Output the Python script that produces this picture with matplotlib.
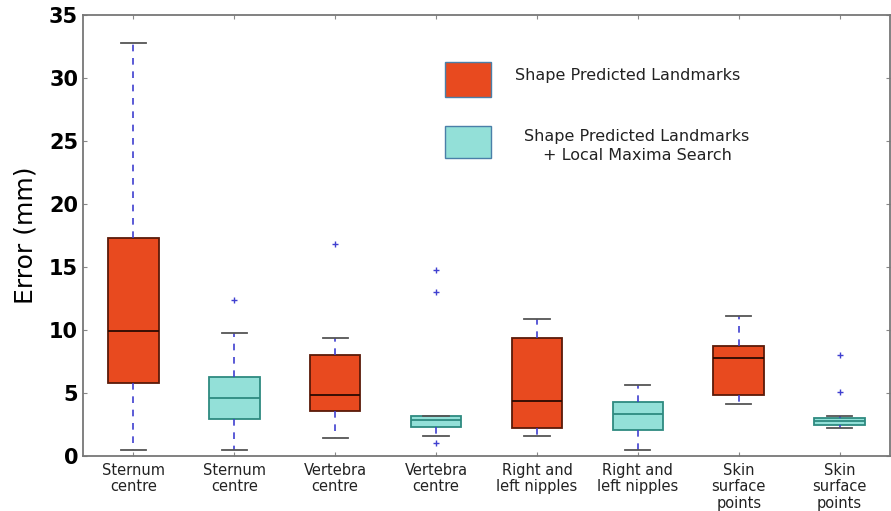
import matplotlib
matplotlib.use("Agg")
import matplotlib.pyplot as plt
from matplotlib.patches import Rectangle

categories = ["Sternum\ncentre", "Sternum\ncentre", "Vertebra\ncentre", "Vertebra\ncentre",
              "Right and\nleft nipples", "Right and\nleft nipples", "Skin\nsurface\npoints",
              "Skin\nsurface\npoints"]
methods = ["shape", "search", "shape", "search", "shape", "search", "shape", "search"]
whisker_low = [0.45, 0.45, 1.45, 1.6, 1.6, 0.45, 4.1, 2.2]
q1 = [5.8, 2.9, 3.6, 2.3, 2.2, 2.05, 4.85, 2.45]
median = [9.9, 4.6, 4.85, 2.85, 4.35, 3.35, 7.8, 2.75]
q3 = [17.3, 6.3, 8.0, 3.2, 9.35, 4.27, 8.7, 3.05]
whisker_high = [32.8, 9.8, 9.4, 3.2, 10.9, 5.6, 11.1, 3.2]
outliers = [[], [12.4], [16.8], [14.8, 13.0, 1.0], [], [], [], [8.0, 5.1]]

legend_labels = ["Shape Predicted Landmarks",
                 "Shape Predicted Landmarks\n+ Local Maxima Search"]

face = {"shape": "#E84A1F", "search": "#93E0D8"}
edge = {"shape": "#5a1a08", "search": "#2E8A80"}

fig = plt.figure(figsize=(8.91, 5.11), dpi=100)
ax = fig.add_axes([83 / 891, 1 - 456 / 511, (890 - 83) / 891, (456 - 15) / 511])

for i in range(len(categories)):
    st = dict(whislo=whisker_low[i], q1=q1[i], med=median[i], q3=q3[i],
              whishi=whisker_high[i], fliers=outliers[i])
    m = methods[i]
    ax.bxp([st], positions=[i + 1], widths=0.5, patch_artist=True,
           boxprops=dict(facecolor=face[m], edgecolor=edge[m], linewidth=1.3),
           medianprops=dict(color=edge[m] if m == "search" else "#2a0a02", linewidth=1.3),
           whiskerprops=dict(color="#4040d0", linestyle=(0, (4, 4)), linewidth=1.2),
           capprops=dict(color="#555555", linewidth=1.3),
           flierprops=dict(marker="+", markeredgecolor="#4040d0", markersize=4,
                           markeredgewidth=1.0))

ax.set_xlim(0.5, 8.5)
ax.set_ylim(0, 35)
ax.set_xticks(range(1, 9))
ax.set_xticklabels(categories, fontsize=10.5, color="#222222", linespacing=1.12)
ax.set_yticks(range(0, 36, 5))
ax.tick_params(axis="y", labelsize=15)
for lbl in ax.get_yticklabels():
    lbl.set_fontweight("bold")
ax.tick_params(direction="in", top=True, right=True, length=3, color="#888888")
ax.tick_params(axis="x", pad=5)
for s in ax.spines.values():
    s.set_color("#777777")
    s.set_linewidth(1.3)
ax.set_ylabel("Error (mm)", fontsize=18, labelpad=8)

# legend drawn as patches with text beside them
ax.add_patch(Rectangle((445 / 891, 1 - 97 / 511), 46 / 891, 35 / 511, transform=fig.transFigure,
                       facecolor=face["shape"], edgecolor="#4a7fa8", linewidth=1.0, clip_on=False))
ax.add_patch(Rectangle((445 / 891, 1 - 158 / 511), 46 / 891, 32 / 511, transform=fig.transFigure,
                       facecolor=face["search"], edgecolor="#4a7fa8", linewidth=1.0, clip_on=False))
fig.text(515 / 891, 1 - 75 / 511, legend_labels[0], fontsize=11.5, va="center", ha="left",
         color="#222222")
fig.text(637 / 891, 1 - 146 / 511, legend_labels[1], fontsize=11.5, va="center", ha="center",
         color="#222222", linespacing=1.3)

fig.savefig("out.png", dpi=100)
